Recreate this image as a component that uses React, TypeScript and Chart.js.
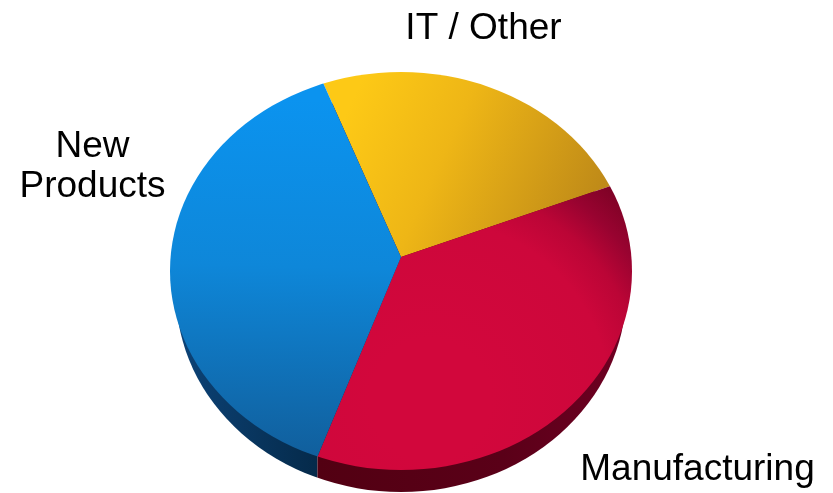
import { useEffect, useRef } from "react";
import { Chart, registerables } from "chart.js";

Chart.register(...registerables);

// Budget split, in percent of the whole pie.
const categories = ["IT / Other", "Manufacturing", "New Products"];
const shares = [26.5, 36.5, 37];
const firstSliceRotation = -24.1;

// Label placement per category: text lines and the anchor of the first baseline.
const labelLines = [["IT / Other"], ["Manufacturing"], ["New", "Products"]];
const labelAnchors = [
  { x: 483.5, y: 39 },
  { x: 697.5, y: 480 },
  { x: 92.5, y: 157 },
];

const faceOutline = { cx: 401, cy: 271, rx: 231, ry: 199 };
const wallOutline = { cx: 401, cy: 293, rx: 225, ry: 199 };

function linear(c: CanvasRenderingContext2D, x0: number, y0: number, x1: number, y1: number, stops: [number, string][]) {
  const g = c.createLinearGradient(x0, y0, x1, y1);
  stops.forEach(([o, col]) => g.addColorStop(o, col));
  return g;
}

function sliceFill(c: CanvasRenderingContext2D, index: number) {
  if (index === 0) {
    return linear(c, 350, 105, 590, 215, [
      [0, "#fdc916"],
      [0.4, "#eeb616"],
      [1, "#bf8a18"],
    ]);
  }
  if (index === 1) {
    const g = c.createRadialGradient(430, 400, 60, 430, 400, 300);
    g.addColorStop(0, "#d2073c");
    g.addColorStop(0.5, "#cd073b");
    g.addColorStop(0.65, "#bb0536");
    g.addColorStop(0.78, "#980330");
    g.addColorStop(0.9, "#800226");
    return g;
  }
  return linear(c, 300, 100, 290, 470, [
    [0, "#0b93ef"],
    [0.45, "#0e87d9"],
    [1, "#115c98"],
  ]);
}

function ellipsePath(c: CanvasRenderingContext2D, o: typeof faceOutline) {
  c.beginPath();
  c.ellipse(o.cx, o.cy, o.rx, o.ry, 0, 0, Math.PI * 2);
}

// Horizontal position where a slice edge leaves the face ellipse.
function rimX(x: number, y: number, angle: number) {
  let t = 0;
  const o = faceOutline;
  while (t < 400) {
    const px = x + t * Math.cos(angle);
    const py = y + t * Math.sin(angle);
    if (((px - o.cx) / o.rx) ** 2 + ((py - o.cy) / o.ry) ** 2 > 1) return px;
    t += 0.25;
  }
  return x;
}

// Pie body: the sliced face is cropped to an ellipse, with a darker rim below it.
const tiltedPie = {
  id: "tiltedPie",
  beforeDatasetsDraw(chart: Chart) {
    const c = chart.ctx;
    const arcs = chart.getDatasetMeta(0).data as any[];
    const lowest = arcs[2].getProps(["x", "y", "startAngle"], true);
    const seam = rimX(lowest.x, lowest.y, lowest.startAngle);
    const { width, height } = chart;
    c.save();
    ellipsePath(c, wallOutline);
    c.clip();
    c.fillStyle = linear(c, 175, 0, seam, 0, [
      [0, "#0c4378"],
      [0.6, "#08345c"],
      [1, "#052a4a"],
    ]);
    c.fillRect(0, 0, seam, height);
    c.fillStyle = linear(c, seam, 0, 626, 0, [
      [0, "#520012"],
      [0.6, "#5a0018"],
      [1, "#6e0022"],
    ]);
    c.fillRect(seam, 0, width - seam, height);
    c.restore();
    c.save();
    ellipsePath(c, faceOutline);
    c.clip();
  },
  afterDatasetsDraw(chart: Chart) {
    chart.ctx.restore();
  },
};

const sliceLabels = {
  id: "sliceLabels",
  afterDraw(chart: Chart) {
    const c = chart.ctx;
    c.save();
    c.font = '37px "Liberation Sans", Arial, sans-serif';
    c.fillStyle = "#000000";
    c.textAlign = "center";
    c.textBaseline = "alphabetic";
    labelLines.forEach((lines, i) => {
      lines.forEach((line, j) => {
        c.fillText(line, labelAnchors[i].x, labelAnchors[i].y + j * 40);
      });
    });
    c.restore();
  },
};

export default function App() {
  const canvasRef = useRef<HTMLCanvasElement>(null);

  useEffect(() => {
    const chart = new Chart(canvasRef.current!, {
      type: "pie",
      data: {
        labels: categories,
        datasets: [
          {
            data: shares,
            borderWidth: 0,
            backgroundColor: (ctx: any) => sliceFill(ctx.chart.ctx, ctx.dataIndex),
          },
        ],
      },
      options: {
        responsive: false,
        devicePixelRatio: 1,
        animation: false,
        rotation: firstSliceRotation,
        layout: { padding: { left: 0, right: 31, top: 21, bottom: 0 } },
        plugins: { legend: { display: false }, tooltip: { enabled: false } },
      },
      plugins: [tiltedPie, sliceLabels],
    } as any);
    return () => chart.destroy();
  }, []);

  return (
    <div style={{ position: "absolute", left: 0, top: 0, width: 833, height: 493, background: "#ffffff" }}>
      <canvas ref={canvasRef} width={833} height={493} style={{ display: "block" }} />
    </div>
  );
}
